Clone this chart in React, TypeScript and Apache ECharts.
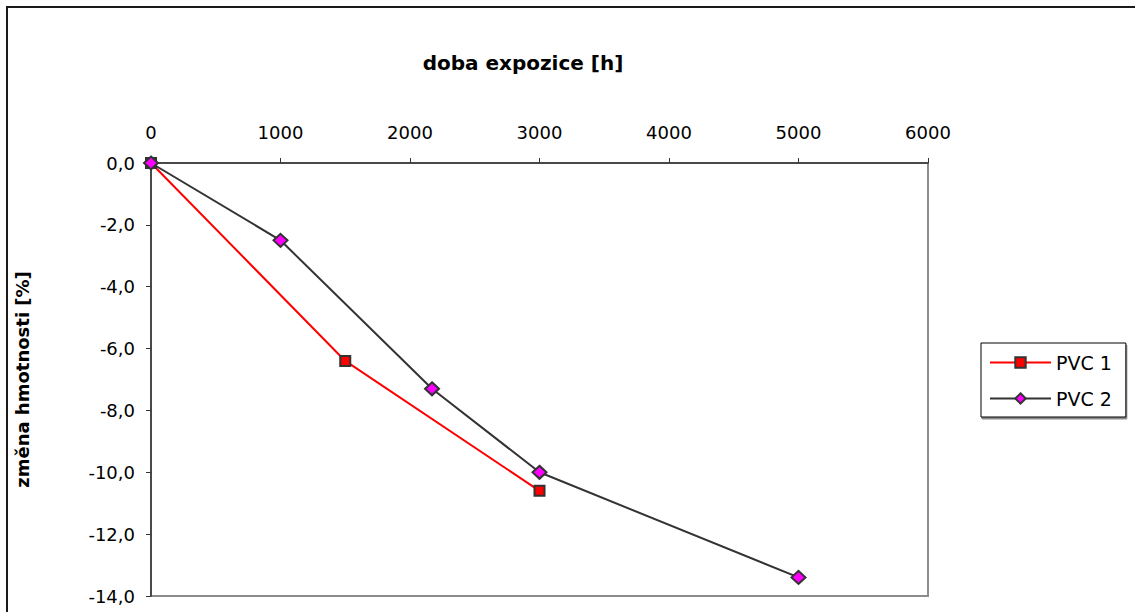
import React, { useEffect, useRef } from "react";
import * as echarts from "echarts";

// exposure time [h] and mass change [%] for each PVC sample
const pvc1Hours = [0, 1500, 3000];
const pvc1Change = [0, -6.4, -10.6];
const pvc2Hours = [0, 1000, 2170, 3000, 5000];
const pvc2Change = [0, -2.5, -7.3, -10.0, -13.4];

const seriesNames = ["PVC 1", "PVC 2"];
const xTicks = { min: 0, max: 6000, step: 1000 };
const yTicks = { min: -14, max: 0, step: 2 };

const FONT = "DejaVu Sans";

const pairs = (xs: number[], ys: number[]) => xs.map((x, i) => [x, ys[i]]);

export default function App() {
  const ref = useRef<HTMLDivElement>(null);

  useEffect(() => {
    if (!ref.current) return;
    const chart = echarts.init(ref.current, null, { renderer: "svg" });
    chart.setOption({
      animation: false,
      backgroundColor: "#ffffff",
      title: {
        text: "doba expozice [h]",
        left: 518,
        top: 48,
        textAlign: "center",
        textStyle: { fontFamily: FONT, fontSize: 20, fontWeight: "bold", color: "#000" },
      },
      graphic: [
        {
          type: "rect",
          shape: { x: 7, y: 7, width: 1200, height: 700 },
          style: { fill: "none", stroke: "#1a1a1a", lineWidth: 2 },
          silent: true,
        },
      ],
      legend: {
        orient: "vertical",
        left: 981,
        top: 343,
        itemWidth: 61,
        itemHeight: 13,
        itemGap: 17,
        padding: [10, 14, 9, 8],
        borderColor: "#000",
        borderWidth: 1,
        backgroundColor: "#fff",
        shadowColor: "rgba(0,0,0,0.45)",
        shadowOffsetX: 1,
        shadowOffsetY: 2,
        textStyle: { fontFamily: FONT, fontSize: 19, color: "#000" },
        data: seriesNames,
      },
      grid: {
        left: 151,
        top: 163,
        width: 777,
        height: 433,
        show: true,
        borderColor: "#8c8c8c",
        borderWidth: 2,
        backgroundColor: "transparent",
      },
      xAxis: {
        type: "value",
        position: "top",
        min: xTicks.min,
        max: xTicks.max,
        interval: xTicks.step,
        axisLine: { show: true, onZero: false, lineStyle: { color: "#333", width: 1.5 } },
        axisTick: { show: true, length: 5, lineStyle: { color: "#333", width: 1 } },
        splitLine: { show: false },
        axisLabel: {
          margin: 22,
          fontFamily: FONT,
          fontSize: 18,
          color: "#000",
          formatter: (v: number) => String(v),
        },
      },
      yAxis: {
        type: "value",
        min: yTicks.min,
        max: yTicks.max,
        interval: yTicks.step,
        name: "změna hmotnosti [%]",
        nameLocation: "middle",
        nameRotate: 90,
        nameGap: 120,
        nameTextStyle: { fontFamily: FONT, fontSize: 18, fontWeight: "bold", color: "#000" },
        axisLine: { show: true, onZero: false, lineStyle: { color: "#333", width: 1.5 } },
        axisTick: { show: true, length: 5, lineStyle: { color: "#333", width: 1 } },
        splitLine: { show: false },
        axisLabel: {
          margin: 16,
          fontFamily: FONT,
          fontSize: 18,
          color: "#000",
          formatter: (v: number) => v.toFixed(1).replace(".", ","),
        },
      },
      series: [
        {
          name: seriesNames[0],
          type: "line",
          data: pairs(pvc1Hours, pvc1Change),
          symbol: "rect",
          symbolSize: 10,
          lineStyle: { color: "#ff0000", width: 2 },
          itemStyle: { color: "#ff0000", borderColor: "#333", borderWidth: 2 },
          z: 2,
        },
        {
          name: seriesNames[1],
          type: "line",
          data: pairs(pvc2Hours, pvc2Change),
          symbol: "diamond",
          symbolSize: [14, 13],
          lineStyle: { color: "#333", width: 2 },
          itemStyle: { color: "#ff00ff", borderColor: "#333", borderWidth: 2 },
          z: 3,
        },
      ],
    });
    return () => chart.dispose();
  }, []);

  return (
    <div
      ref={ref}
      style={{ position: "fixed", left: 0, top: 0, width: 1135, height: 612 }}
    />
  );
}
